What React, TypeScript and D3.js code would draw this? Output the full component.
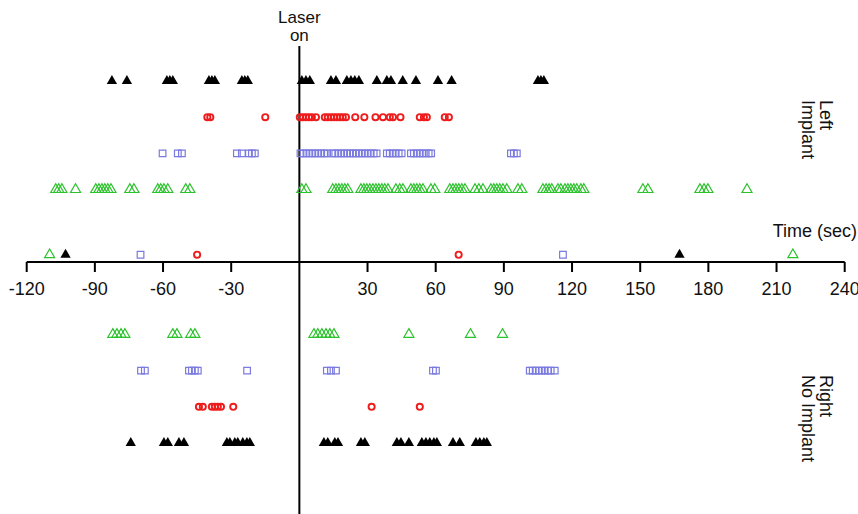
import React from 'react'
import * as d3 from 'd3'

const leftBlack = [-82.5, -75.9, -58.3, -57.0, -55.7, -39.8, -38.5, -37.2, -25.3, -24.0, -22.7, 1.1, 2.9, 4.6, 13.9, 16.1, 20.9, 22.7, 24.4, 26.2, 34.1, 38.5, 40.3, 45.5, 51.3, 61.0, 67.0, 105.0, 106.3, 107.6]
const leftRed = [-40.5, -39.2, -15.0, 0.2, 1.5, 2.9, 4.2, 5.5, 7.3, 11.2, 12.5, 13.9, 15.2, 16.5, 17.8, 19.1, 20.5, 24.6, 28.6, 33.5, 36.8, 39.8, 41.2, 44.5, 53.0, 54.8, 56.1, 64.0, 65.8]
const leftBlue = [-60.2, -53.5, -51.7, -27.5, -25.3, -22.2, -20.9, -19.6, 0.5, 1.8, 3.1, 4.4, 5.7, 7.0, 8.3, 9.6, 10.9, 12.2, 14.5, 15.8, 17.1, 18.4, 19.7, 21.0, 22.3, 23.6, 24.9, 26.2, 27.5, 28.8, 30.1, 31.4, 32.7, 34.0, 38.5, 39.8, 41.1, 42.4, 43.7, 45.0, 49.1, 50.4, 51.7, 53.0, 54.3, 55.6, 56.9, 58.0, 93.1, 94.4, 95.7]
const leftGreen = [-107.2, -105.9, -104.5, -98.5, -89.6, -88.2, -86.9, -85.6, -84.3, -82.9, -74.6, -72.8, -62.3, -61.0, -59.6, -57.9, -50.0, -48.2,
  1.1, 2.9, 14.7, 16.1, 17.4, 18.7, 20.0, 21.3, 27.1, 28.4, 29.7, 31.0, 32.4, 33.7, 35.0, 36.3, 37.6, 39.0, 42.5, 44.2, 45.6, 49.1, 50.4, 51.7, 53.0, 54.4, 57.9, 59.6,
  66.2, 67.6, 68.9, 70.2, 71.5, 72.9, 77.3, 79.0, 80.8, 84.3, 85.6, 86.9, 88.2, 89.6, 91.3, 96.2, 97.9, 107.2, 108.6, 109.9, 111.1, 113.8, 115.1, 116.9, 118.2, 119.5, 120.8, 122.1, 123.9, 125.2,
  151.2, 153.4, 176.3, 178.1, 179.8, 197.0]

const rightGreen = [-82.1, -80.3, -78.5, -76.8, -55.7, -53.9, -47.8, -46.0, 6.4, 8.1, 9.9, 11.7, 13.4, 15.2, 48.2, 75.3, 89.4]
const rightBlue = [-69.7, -68.0, -48.6, -47.3, -46.0, -44.7, -23.0, 12.1, 13.9, 16.1, 58.8, 60.1, 101.4, 102.7, 104.0, 105.4, 106.7, 108.0, 109.3, 110.6, 112.4]
const rightRed = [-44.2, -42.5, -38.5, -37.2, -35.9, -34.5, -29.1, 31.8, 53.0]
const rightBlack = [-74.2, -59.6, -57.9, -53.0, -50.8, -31.9, -30.6, -28.4, -27.1, -24.9, -23.1, -21.8, 10.8, 12.5, 15.6, 17.0, 27.1, 28.8, 42.9, 44.7, 48.2, 53.9, 55.7, 57.4, 59.2, 60.5, 67.6, 70.6, 77.7, 79.4, 81.2, 82.5]

// single markers sitting on the time axis
const axisGreen = [-109.9, 217.2]
const axisBlack = [-102.9, 167.3]
const axisBlue = [-69.9, 116.0]
const axisRed = [-45.0, 70.1]

const xTicks = [-120, -90, -60, -30, 30, 60, 90, 120, 150, 180, 210, 240]

const width = 858
const height = 514
const font = '"Liberation Sans", Arial, sans-serif'

const RED = '#ee1c1c'
const BLUE = '#7a7ae0'
const GREEN = '#2cc22c'

type Style = { shape: d3.SymbolType; size: number; fill: string; stroke: string; sw: number }
const blackTri: Style = { shape: d3.symbolTriangle, size: 46, fill: '#000', stroke: 'none', sw: 0 }
const greenTri: Style = { shape: d3.symbolTriangle, size: 44, fill: 'none', stroke: GREEN, sw: 1.2 }
const blueSq: Style = { shape: d3.symbolSquare, size: 44, fill: 'none', stroke: BLUE, sw: 1.2 }
const redCirc: Style = { shape: d3.symbolCircle, size: 30, fill: 'none', stroke: RED, sw: 1.9 }

// lane number -> row (positive = left implant above the axis)
const rows: { lane: number; values: number[]; style: Style }[] = [
  { lane: 5, values: leftBlack, style: blackTri },
  { lane: 4, values: leftRed, style: redCirc },
  { lane: 3, values: leftBlue, style: blueSq },
  { lane: 2, values: leftGreen, style: greenTri },
  { lane: 0.2, values: axisGreen, style: greenTri },
  { lane: 0.2, values: axisBlack, style: blackTri },
  { lane: 0.2, values: axisBlue, style: blueSq },
  { lane: 0.2, values: axisRed, style: redCirc },
  { lane: -2, values: rightGreen, style: greenTri },
  { lane: -3, values: rightBlue, style: blueSq },
  { lane: -4, values: rightRed, style: redCirc },
  { lane: -5, values: rightBlack, style: blackTri },
]

const App = () => {
  const x = d3.scaleLinear().domain([-120, 240]).range([26.7, 844.7])
  const y = d3.scaleLinear().domain([0, 1]).range([262, 225.8])
  const axisY = y(0)

  return (
    <svg width={width} height={height} style={{ position: 'absolute', left: 0, top: 0 }} fontFamily={font}>
      <rect width={width} height={height} fill="#fff" />

      {/* time axis */}
      <line x1={x(-120)} x2={x(240)} y1={axisY} y2={axisY} stroke="#000" strokeWidth={2} />
      {xTicks.map(t => (
        <g key={t}>
          <line x1={x(t)} x2={x(t)} y1={axisY} y2={axisY + 10} stroke="#000" strokeWidth={2} />
          <text x={x(t)} y={axisY + 33} fontSize={18} textAnchor="middle" fill="#111">{t}</text>
        </g>
      ))}
      <text x={857} y={237} fontSize={18} textAnchor="end" fill="#111">Time (sec)</text>

      {/* laser onset */}
      <line x1={x(0)} x2={x(0)} y1={46} y2={height} stroke="#000" strokeWidth={2} />
      <text x={x(0)} y={23} fontSize={17} textAnchor="middle" fill="#111">Laser</text>
      <text x={x(0)} y={41} fontSize={17} textAnchor="middle" fill="#111">on</text>

      {rows.map((r, i) => {
        const sym = d3.symbol(r.style.shape, r.style.size)()
        return (
          <g key={i}>
            {r.values.map((v, j) => (
              <path key={j} d={sym!} transform={`translate(${x(v)},${y(r.lane)})`}
                fill={r.style.fill} stroke={r.style.stroke} strokeWidth={r.style.sw} />
            ))}
          </g>
        )
      })}

      {/* side labels, rotated */}
      <g transform="translate(820,100) rotate(90)">
        <text x={0} y={0} fontSize={18} fill="#111">Left</text>
        <text x={0} y={18} fontSize={18} fill="#111">Implant</text>
      </g>
      <g transform="translate(820,375) rotate(90)">
        <text x={0} y={0} fontSize={18} fill="#111">Right</text>
        <text x={0} y={18} fontSize={18} fill="#111">No Implant</text>
      </g>
    </svg>
  )
}

export default App
